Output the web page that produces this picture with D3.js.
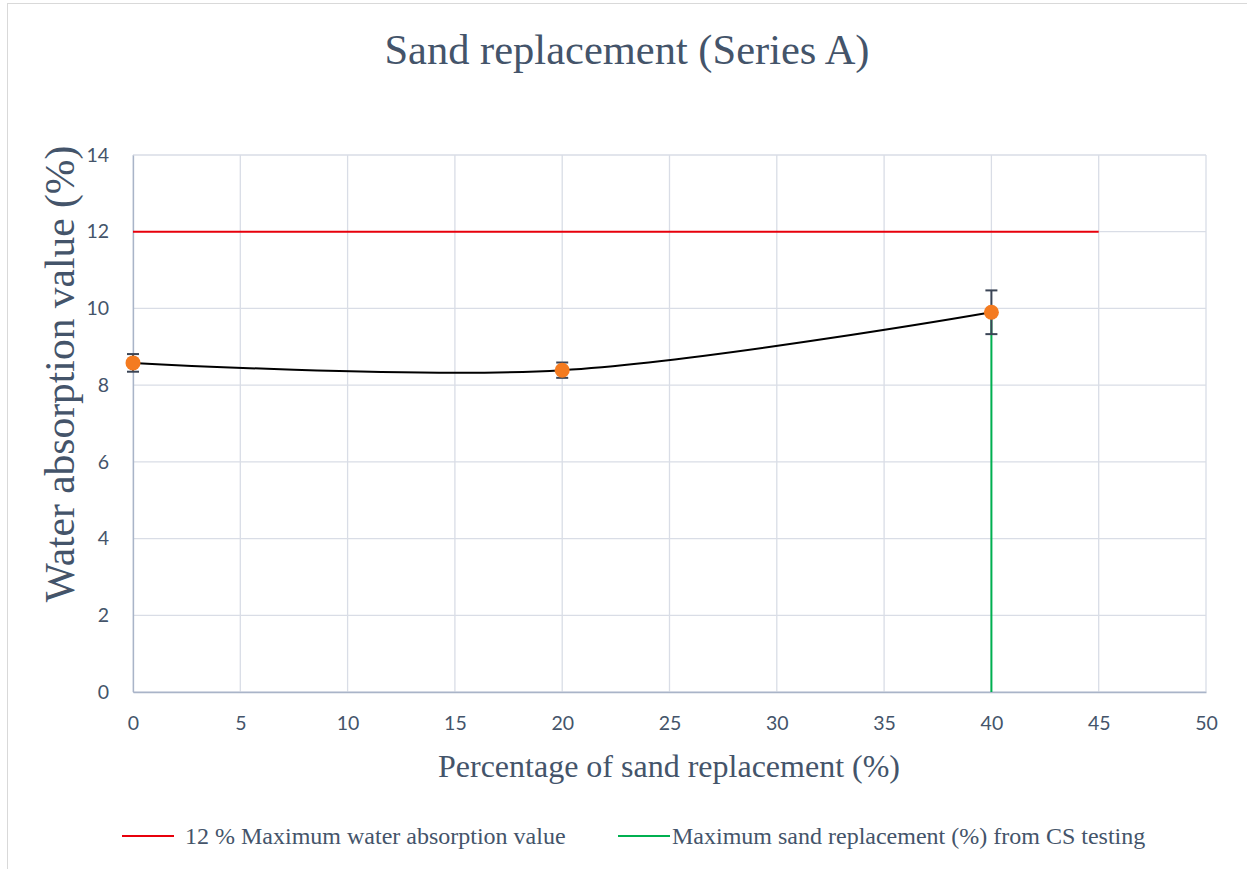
<!DOCTYPE html>
<html>
<head>
<meta charset="utf-8">
<script src="https://cdn.jsdelivr.net/npm/d3@7"></script>
<style>
  body { margin: 0; background: #fff; }
  svg { display: block; }
</style>
</head>
<body>
<svg id="chart" width="1247" height="869"></svg>
<script>
// data
const replacement = [0, 20, 40];
const absorption = [8.58, 8.39, 9.9];
const errBar = [0.23, 0.2, 0.57];
const limitX = [0, 45];
const limitY = 12;
const csMaxX = 40;
const xTicks = [0, 5, 10, 15, 20, 25, 30, 35, 40, 45, 50];
const yTicks = [0, 2, 4, 6, 8, 10, 12, 14];

const svg = d3.select('#chart');
const plot = { left: 133, right: 1206, top: 155, bottom: 692 };
const textCol = '#44546A';
const gridCol = '#D9DDE6';
const serif = '"Liberation Serif", "Times New Roman", serif';

const x = d3.scaleLinear().domain([0, 50]).range([plot.left, plot.right]);
const y = d3.scaleLinear().domain([0, 14]).range([plot.bottom, plot.top]);

// outer chart border
svg.append('rect')
  .attr('x', 7.5).attr('y', 3.5)
  .attr('width', 1260).attr('height', 880)
  .attr('fill', 'none')
  .attr('stroke', '#D9D9D9');

// title
svg.append('text')
  .attr('x', 627).attr('y', 64)
  .attr('text-anchor', 'middle')
  .attr('font-family', serif)
  .attr('font-size', 42.5)
  .attr('fill', textCol)
  .text('Sand replacement (Series A)');

// grid
const grid = svg.append('g');
grid.selectAll('line.v')
  .data(xTicks)
  .enter()
  .append('line')
  .attr('x1', d => x(d)).attr('x2', d => x(d))
  .attr('y1', plot.top).attr('y2', plot.bottom)
  .attr('stroke', gridCol)
  .attr('stroke-width', 1.3);
grid.selectAll('line.h')
  .data(yTicks)
  .enter()
  .append('line')
  .attr('x1', plot.left).attr('x2', plot.right)
  .attr('y1', d => y(d)).attr('y2', d => y(d))
  .attr('stroke', gridCol)
  .attr('stroke-width', 1.3);

// axes
const xAxis = svg.append('g')
  .attr('transform', `translate(0,${plot.bottom})`)
  .call(d3.axisBottom(x).tickValues(xTicks).tickSize(0).tickPadding(28));
const yAxis = svg.append('g')
  .attr('transform', `translate(${plot.left},0)`)
  .call(d3.axisLeft(y).tickValues(yTicks).tickSize(0).tickPadding(24));
[xAxis, yAxis].forEach((ax) => {
  ax.select('.domain').attr('stroke', '#A9B4C8').attr('stroke-width', 1.3);
  ax.selectAll('text')
    .attr('font-family', 'Lato, "Open Sans", sans-serif')
    .attr('font-size', 19.5)
    .attr('fill', textCol);
});
xAxis.selectAll('text').attr('dy', '0.5em');

// axis titles
svg.append('text')
  .attr('x', 669).attr('y', 777)
  .attr('text-anchor', 'middle')
  .attr('font-family', serif)
  .attr('font-size', 32)
  .attr('fill', textCol)
  .text('Percentage of sand replacement (%)');
svg.append('text')
  .attr('transform', 'translate(74,374) rotate(-90)')
  .attr('text-anchor', 'middle')
  .attr('font-family', serif)
  .attr('font-size', 41.5)
  .attr('fill', textCol)
  .text('Water absorption value (%)');

// 12 % limit line
svg.append('line')
  .attr('x1', x(limitX[0])).attr('x2', x(limitX[1]))
  .attr('y1', y(limitY)).attr('y2', y(limitY))
  .attr('stroke', '#E8000B')
  .attr('stroke-width', 2);

// CS testing line
const lastIdx = replacement.indexOf(csMaxX);
svg.append('line')
  .attr('x1', x(csMaxX)).attr('x2', x(csMaxX))
  .attr('y1', y(0)).attr('y2', y(absorption[lastIdx]))
  .attr('stroke', '#00B050')
  .attr('stroke-width', 2);

// smoothed series line
const pts = replacement.map((d, i) => [d, absorption[i]]);
const line = d3.line()
  .x(d => x(d[0]))
  .y(d => y(d[1]))
  .curve(d3.curveCatmullRom.alpha(0.5));
svg.append('path')
  .datum(pts)
  .attr('d', line)
  .attr('fill', 'none')
  .attr('stroke', '#000')
  .attr('stroke-width', 2);

// error bars
const eb = svg.append('g')
  .attr('stroke', '#3B4556')
  .attr('stroke-width', 2);
pts.forEach((p, i) => {
  const cx = x(p[0]);
  const top = y(p[1] + errBar[i]);
  const bot = y(p[1] - errBar[i]);
  eb.append('line').attr('x1', cx).attr('x2', cx).attr('y1', top).attr('y2', bot);
  eb.append('line').attr('x1', cx - 6).attr('x2', cx + 6).attr('y1', top).attr('y2', top);
  eb.append('line').attr('x1', cx - 6).attr('x2', cx + 6).attr('y1', bot).attr('y2', bot);
});

// markers
svg.selectAll('circle.pt')
  .data(pts)
  .enter()
  .append('circle')
  .attr('class', 'pt')
  .attr('cx', d => x(d[0]))
  .attr('cy', d => y(d[1]))
  .attr('r', 7.5)
  .attr('fill', '#F47B20');

// legend
const legend = [
  { label: '12 % Maximum water absorption value', color: '#E8000B', x: 122, gap: 63 },
  { label: 'Maximum sand replacement (%) from CS testing', color: '#00B050', x: 618, gap: 54 }
];
const lg = svg.append('g')
  .selectAll('g')
  .data(legend)
  .enter()
  .append('g')
  .attr('transform', d => `translate(${d.x},836)`);
lg.append('line')
  .attr('x1', 0).attr('x2', 52)
  .attr('stroke', d => d.color)
  .attr('stroke-width', 2);
lg.append('text')
  .attr('x', d => d.gap)
  .attr('dy', '0.35em')
  .attr('font-family', serif)
  .attr('font-size', 24)
  .attr('fill', textCol)
  .text(d => d.label);
</script>
</body>
</html>
